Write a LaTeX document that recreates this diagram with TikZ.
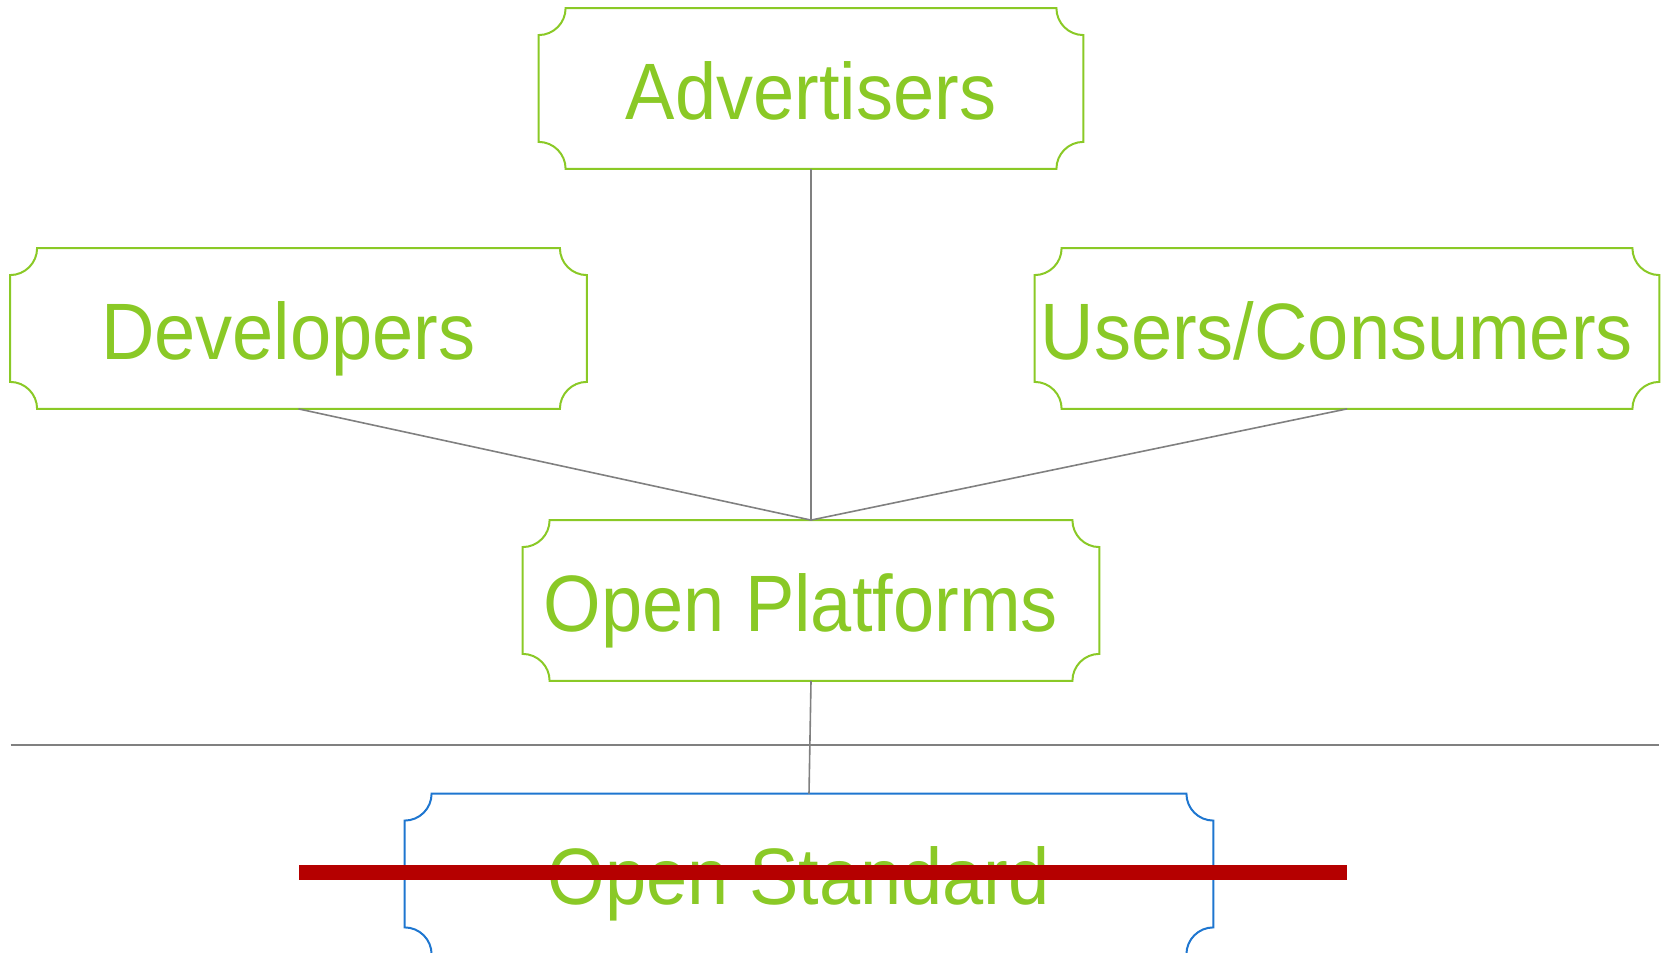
\documentclass[tikz,border=0pt]{standalone}
\usepackage{fontspec}
\setmainfont{Liberation Sans}[FakeStretch=0.925]
\usepackage{tikz}
\usetikzlibrary{
  positioning,
  calc,
}
\definecolor{leafGreen}{HTML}{8AC926}
\definecolor{stdBlue}{HTML}{1E76D0}
\definecolor{linkGray}{HTML}{808080}
\definecolor{strikeRed}{HTML}{B50000}

\tikzset{
  tier/.style={draw=none, inner sep=0pt, text=leafGreen,
    font=\fontsize{40pt}{48pt}\selectfont,
    text height=31pt, text depth=0pt, minimum height=80pt},
  link/.style={linkGray, line width=0.8pt},
}
% trailing gap after a label
\newcommand{\tailgap}{\kern10.3pt}

% outline with concave corners round node #1
\newcommand{\notchframe}[2]{%
  \draw[#2, line width=1pt]
    ($(#1.north west)+(13.5pt,0)$) -- ($(#1.north east)+(-13.5pt,0)$)
    arc[start angle=180, end angle=270, radius=13.5pt]
    -- ($(#1.south east)+(0,13.5pt)$)
    arc[start angle=90, end angle=180, radius=13.5pt]
    -- ($(#1.south west)+(13.5pt,0)$)
    arc[start angle=0, end angle=90, radius=13.5pt]
    -- ($(#1.north west)+(0,-13.5pt)$)
    arc[start angle=270, end angle=360, radius=13.5pt]
    -- cycle;}

\begin{document}
\begin{tikzpicture}[x=0.5pt, y=0.5pt]
  \useasboundingbox (0,0) rectangle (1663,952);
  % stakeholders
  \node[tier, minimum width=272pt] (adv) at (811,863.5) {Advertisers};
  \node[tier, minimum width=288pt] (dev) at (298.5,623.5) {Developers\tailgap};
  \node[tier, minimum width=312pt] (usr) at (1347,623.5) {Users/Consumers\tailgap};
  \node[tier, minimum width=288pt] (plat) at (811,351.5) {Open Platforms\tailgap};
  \node[tier, minimum width=404pt] (std) at (809,78) {Open Standard\tailgap};
  \foreach \n/\c in {adv/leafGreen, dev/leafGreen, usr/leafGreen,
                     plat/leafGreen, std/stdBlue} {
    \notchframe{\n}{\c}
  }
  % links
  \draw[link] (adv.south) -- (plat.north);
  \draw[link] (dev.south) -- (plat.north);
  \draw[link] (usr.south) -- (plat.north);
  \draw[link] (plat.south) -- (std.north);
  % divider
  \coordinate (divl) at (10.6,207);
  \coordinate (divr) at (1659,207);
  \draw[link] (divl) -- (divr);
  % strike-through
  \coordinate (strl) at (299,79);
  \coordinate (strr) at (1347,79);
  \draw[strikeRed, line width=7.5pt] (strl) -- (strr);
\end{tikzpicture}
\end{document}
